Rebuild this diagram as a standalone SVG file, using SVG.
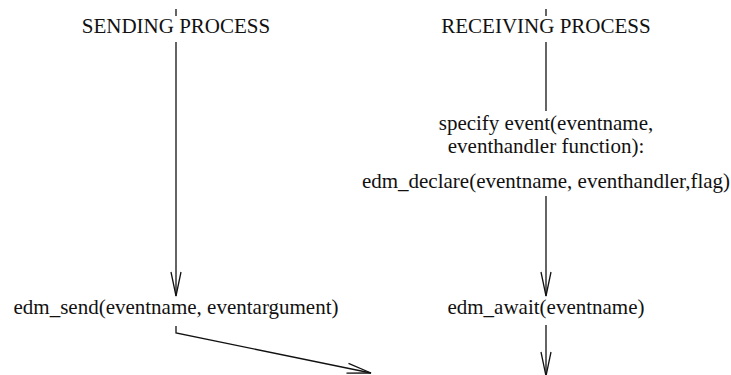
<svg xmlns="http://www.w3.org/2000/svg" width="731" height="375" viewBox="0 0 731 375">
<style>
  text { font-family: "Liberation Serif", "Times New Roman", serif; font-size: 21px; fill: #111; text-anchor: middle; }
  .ln { stroke: #111; stroke-width: 1.3; fill: none; }
</style>
<defs>
  <marker id="ah" viewBox="0 0 26 12" refX="25" refY="6" markerWidth="26" markerHeight="12" markerUnits="userSpaceOnUse" orient="auto">
    <path d="M1,1 L25,6 L1,11" fill="none" stroke="#111" stroke-width="1.3"/>
  </marker>
</defs>
<rect width="731" height="375" fill="#fff"/>
<g id="sending-title">
  <text x="176" y="33">SENDING PROCESS</text>
</g>
<g id="receiving-title">
  <text x="546" y="33">RECEIVING PROCESS</text>
</g>
<g id="specify-event">
  <text x="546" y="130">specify event(eventname,</text>
  <text x="546" y="153">eventhandler function):</text>
</g>
<g id="edm-declare">
  <text x="546" y="188">edm_declare(eventname, eventhandler,flag)</text>
</g>
<g id="edm-send">
  <text x="176" y="314">edm_send(eventname, eventargument)</text>
</g>
<g id="edm-await">
  <text x="546" y="314">edm_await(eventname)</text>
</g>
<g id="connectors">
  <line class="ln" x1="176" y1="9" x2="176" y2="16"/>
  <line class="ln" x1="546" y1="9" x2="546" y2="16"/>
  <line class="ln" x1="176" y1="42" x2="176" y2="296" marker-end="url(#ah)"/>
  <line class="ln" x1="546" y1="42" x2="546" y2="111"/>
  <line class="ln" x1="546" y1="196" x2="546" y2="296" marker-end="url(#ah)"/>
  <polyline class="ln" points="176,326 176,333 371,373" marker-end="url(#ah)"/>
  <line class="ln" x1="546" y1="325" x2="546" y2="376" marker-end="url(#ah)"/>
</g>
</svg>
